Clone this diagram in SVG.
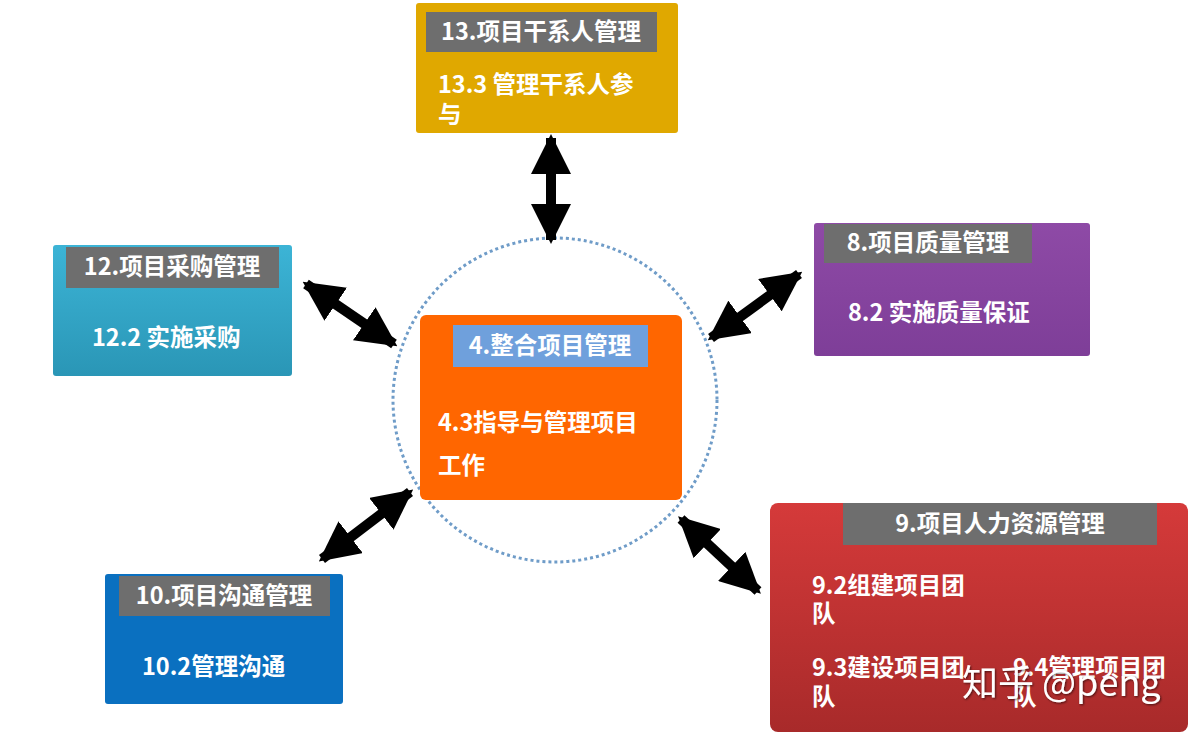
<svg xmlns="http://www.w3.org/2000/svg" width="1197" height="740" viewBox="0 0 1197 740">
<defs>
<linearGradient id="gTeal" x1="0" y1="0" x2="0" y2="1"><stop offset="0" stop-color="#3cb4d6"/><stop offset="1" stop-color="#2a96b6"/></linearGradient>
<linearGradient id="gRed" x1="0" y1="0" x2="0" y2="1"><stop offset="0" stop-color="#d53a3a"/><stop offset="1" stop-color="#a82a2a"/></linearGradient>
<linearGradient id="gPur" x1="0" y1="0" x2="0" y2="1"><stop offset="0" stop-color="#8e4aa6"/><stop offset="1" stop-color="#7e3e98"/></linearGradient>
<marker id="ah" viewBox="0 0 10 10" refX="9" refY="5" markerWidth="4" markerHeight="4" orient="auto-start-reverse" markerUnits="strokeWidth"><path d="M0,0 L10,5 L0,10 Z" fill="#000"/></marker>
<filter id="sh"><feDropShadow dx="1" dy="1" stdDeviation="1" flood-color="#000" flood-opacity="0.6"/></filter>
</defs>
<style>
text{font-family:"Noto Sans CJK SC","Noto Sans",sans-serif;font-weight:bold;fill:#fff;font-size:23.5px}
.hd{fill:#6e6e6e}
.c{text-anchor:middle}
.arr{stroke:#000;stroke-width:10;marker-start:url(#ah);marker-end:url(#ah)}
</style>
<rect width="1197" height="740" fill="#fff"/>
<circle cx="555" cy="400" r="162" fill="none" stroke="#6f9cc8" stroke-width="3" stroke-dasharray="3 3"/>
<g id="connectors">
<line class="arr" x1="551" y1="138" x2="551" y2="240"/>
<line class="arr" x1="306" y1="284" x2="394" y2="344"/>
<line class="arr" x1="799" y1="274" x2="711" y2="338"/>
<line class="arr" x1="410" y1="492" x2="322" y2="559"/>
<line class="arr" x1="681" y1="519" x2="758" y2="591"/>
</g>
<g id="n13">
<rect x="416" y="3" width="262" height="130" rx="3" fill="#e0a800"/>
<rect class="hd" x="426" y="12" width="231" height="40"/>
<text class="c" x="541" y="40">13.项目干系人管理</text>
<text x="438" y="93">13.3 管理干系人参</text>
<text x="438" y="123">与</text>
</g>
<g id="n12">
<rect x="53" y="245" width="239" height="131" rx="3" fill="url(#gTeal)"/>
<rect class="hd" x="66" y="247" width="213" height="41"/>
<text class="c" x="172" y="275">12.项目采购管理</text>
<text x="92" y="346">12.2 实施采购</text>
</g>
<g id="n8">
<rect x="814" y="223" width="276" height="133" rx="3" fill="url(#gPur)"/>
<rect class="hd" x="824" y="224" width="208" height="39"/>
<text class="c" x="928" y="251">8.项目质量管理</text>
<text x="848" y="321">8.2 实施质量保证</text>
</g>
<g id="n4">
<rect x="420" y="315" width="262" height="185" rx="6" fill="#ff6600"/>
<rect x="453" y="325" width="195" height="42" fill="#6fa0dc"/>
<text class="c" x="550" y="354">4.整合项目管理</text>
<text x="438" y="431">4.3指导与管理项目</text>
<text x="438" y="474">工作</text>
</g>
<g id="n10">
<rect x="105" y="574" width="238" height="130" rx="3" fill="#0a70c0"/>
<rect class="hd" x="119" y="576" width="211" height="40"/>
<text class="c" x="224" y="604">10.项目沟通管理</text>
<text x="142" y="675">10.2管理沟通</text>
</g>
<g id="n9">
<rect x="770" y="503" width="418" height="229" rx="8" fill="url(#gRed)"/>
<rect class="hd" x="843" y="503" width="314" height="42"/>
<text class="c" x="1000" y="532">9.项目人力资源管理</text>
<text x="812" y="594">9.2组建项目团</text>
<text x="812" y="622">队</text>
<text x="812" y="676">9.3建设项目团</text>
<text x="812" y="705">队</text>
<text x="1013" y="676">9.4管理项目团</text>
<text x="1013" y="705">队</text>
</g>
<text x="962" y="696" style="font-weight:normal;font-size:36px" filter="url(#sh)">知乎 @peng</text>
</svg>
